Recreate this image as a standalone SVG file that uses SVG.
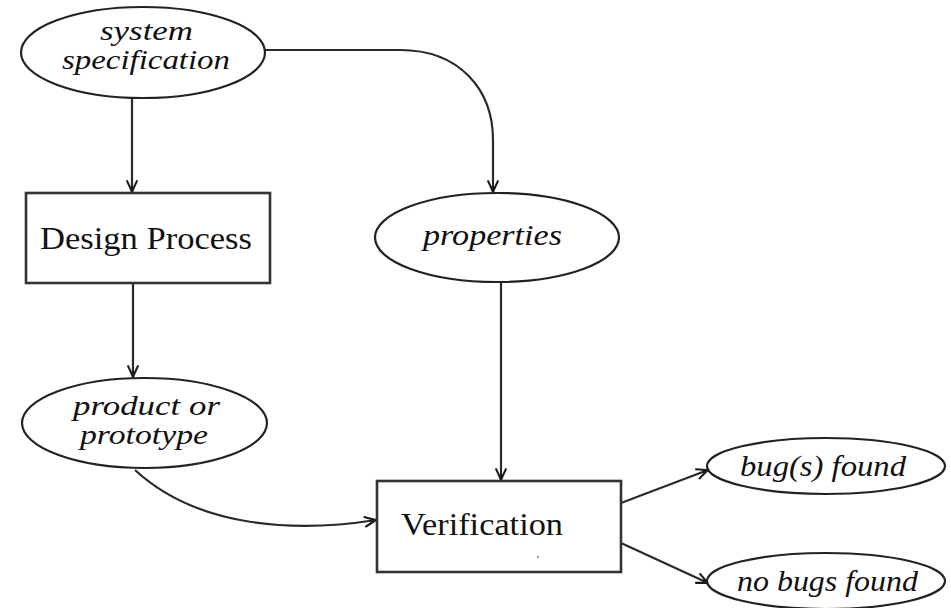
<svg xmlns="http://www.w3.org/2000/svg" width="951" height="608" viewBox="0 0 951 608">
<style>
.shape{fill:#fff;stroke:#222;stroke-width:2.2}
.box{fill:#fff;stroke:#333;stroke-width:2.6}
.edge{fill:none;stroke:#2a2a2a;stroke-width:2.2}
.it{font-family:"Liberation Serif","Times New Roman",serif;font-style:italic;font-size:30px;fill:#111}
.it2{font-family:"Liberation Serif","Times New Roman",serif;font-style:italic;font-size:27px;fill:#111}
.rm{font-family:"Liberation Serif","Times New Roman",serif;font-size:32px;fill:#111}
</style>
<defs>
<marker id="arr" markerUnits="userSpaceOnUse" markerWidth="20" markerHeight="14" viewBox="-11 -6 13 12" refX="0" refY="0" orient="auto">
<path d="M-10,-4.5 Q-3,-1.2 0,0 Q-3,1.2 -10,4.5" fill="none" stroke="#1a1a1a" stroke-width="1.8"/>
<path d="M-5,-1.2 L0,0 L-5,1.2 Z" fill="#1a1a1a"/>
</marker>
</defs>
<g id="connectors">
<path class="edge" d="M132,98 L132,192" marker-end="url(#arr)"/>
<path class="edge" d="M265,50 L400,50 C460,50 493,90 493,140 L493,192" marker-end="url(#arr)"/>
<path class="edge" d="M133,283 L133,377" marker-end="url(#arr)"/>
<path class="edge" d="M501,282 L501,480" marker-end="url(#arr)"/>
<path class="edge" d="M135,470 C200,530 300,532 376,520" marker-end="url(#arr)"/>
<path class="edge" d="M621,503 L708,470" marker-end="url(#arr)"/>
<path class="edge" d="M621,543 L708,583" marker-end="url(#arr)"/>
</g>
<g id="system-specification">
<ellipse class="shape" cx="143" cy="52.5" rx="122" ry="45.5"/>
<text class="it2" x="146.5" y="40" text-anchor="middle" textLength="93" lengthAdjust="spacingAndGlyphs">system</text>
<text class="it2" x="146" y="69" text-anchor="middle" textLength="168" lengthAdjust="spacingAndGlyphs">specification</text>
</g>
<g id="design-process">
<rect class="box" x="26" y="193" width="244" height="90"/>
<text class="rm" x="146" y="249" text-anchor="middle" textLength="212" lengthAdjust="spacingAndGlyphs">Design Process</text>
</g>
<g id="properties">
<ellipse class="shape" cx="497" cy="237.5" rx="122" ry="44.5"/>
<text class="it" x="492.5" y="245" text-anchor="middle" textLength="139" lengthAdjust="spacingAndGlyphs">properties</text>
</g>
<g id="product-or-prototype">
<ellipse class="shape" cx="144.5" cy="423" rx="122.5" ry="45"/>
<text class="it2" x="146.5" y="415" text-anchor="middle" textLength="147" lengthAdjust="spacingAndGlyphs">product or</text>
<text class="it2" x="144" y="444" text-anchor="middle" textLength="128" lengthAdjust="spacingAndGlyphs">prototype</text>
</g>
<g id="verification">
<rect class="box" x="377" y="481" width="244" height="91"/>
<text class="rm" x="401" y="535" textLength="162" lengthAdjust="spacingAndGlyphs">Verification</text>
<circle cx="538" cy="557" r="0.9" fill="#777"/>
</g>
<g id="bugs-found">
<ellipse class="shape" cx="826" cy="466" rx="119" ry="28"/>
<text class="it" x="823" y="476" text-anchor="middle" textLength="166" lengthAdjust="spacingAndGlyphs">bug(s) found</text>
</g>
<g id="no-bugs-found">
<ellipse class="shape" cx="826" cy="581" rx="119" ry="28"/>
<text class="it" x="827.5" y="591" text-anchor="middle" textLength="181" lengthAdjust="spacingAndGlyphs">no bugs found</text>
</g>
</svg>
